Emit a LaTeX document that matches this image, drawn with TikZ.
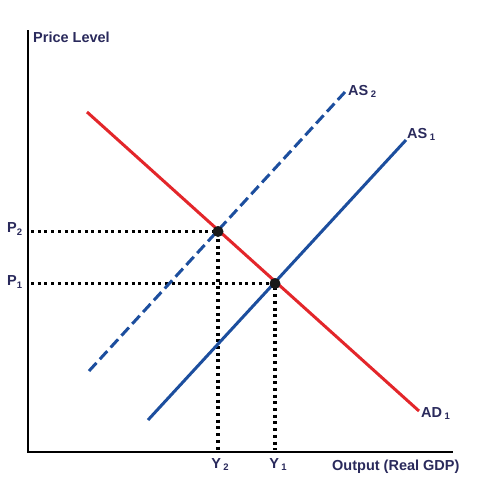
\documentclass[tikz,border=0pt]{standalone}
\usepackage{fontspec}
\setmainfont{Liberation Sans}
\definecolor{adred}{HTML}{E3262A}
\definecolor{asblue}{HTML}{1C4E9E}
\definecolor{txt}{HTML}{2A2A5C}
\begin{document}
\begin{tikzpicture}[x=1pt,y=-1pt,
  lbl/.style={font=\fontsize{14.5}{15}\selectfont\bfseries, text=txt, inner sep=0pt},
  curve/.style={line width=3pt},
  axis/.style={line width=2.8pt, black},
  guide/.style={line width=3.2pt, black, dash pattern=on 3pt off 3.7pt},
  eq/.style={circle, fill=black!90, minimum size=11pt, inner sep=0pt}]
\useasboundingbox[fill=white] (0,0) rectangle (480,480);
% axes
\coordinate (O) at (28,452);
\coordinate (ytop) at (28,30);
\coordinate (xend) at (453,452);
\draw[axis] (ytop) -- (O) -- (xend);
% equilibrium points
\coordinate (E2) at (218,231.5);
\coordinate (E1) at (275,283.5);
% guides
\coordinate (p2) at (31,231.5);
\coordinate (p1) at (31,283.5);
\coordinate (y2) at (218,450);
\coordinate (y1) at (275,450);
\draw[guide] (p2) -- (E2) -- (y2);
\draw[guide] (p1) -- (E1) -- (y1);
% curves
\coordinate (ada) at (87,112);
\coordinate (adb) at (419,411);
\coordinate (as1a) at (148,420);
\coordinate (as1b) at (406,140);
\coordinate (as2a) at (89,371);
\coordinate (as2b) at (345,92);
\draw[curve, adred] (ada) -- (adb);
\draw[curve, asblue] (as1a) -- (as1b);
\draw[curve, asblue, dash pattern=on 11pt off 5pt] (as2a) -- (as2b);
\node[eq] (e2) at (E2) {};
\node[eq] (e1) at (E1) {};
% labels
\node[lbl, anchor=west] (pl) at (33,37) {Price Level};
\node[lbl, anchor=west] (out) at (332,467) {Output (Real GDP)};
\node[lbl, anchor=west] (as2) at (348,91) {AS\,\raisebox{-2pt}{\fontsize{9.5}{9.5}\selectfont 2}};
\node[lbl, anchor=west] (as1) at (407,134) {AS\,\raisebox{-2pt}{\fontsize{9.5}{9.5}\selectfont 1}};
\node[lbl, anchor=west] (ad1) at (421,414) {AD\,\raisebox{-2pt}{\fontsize{9.5}{9.5}\selectfont 1}};
\node[lbl, anchor=west] (P2) at (7,229) {P\raisebox{-3pt}{\fontsize{9.5}{9.5}\selectfont 2}};
\node[lbl, anchor=west] (P1) at (7,282) {P\raisebox{-3pt}{\fontsize{9.5}{9.5}\selectfont 1}};
\node[lbl] (Y2) at (220,465) {Y\,\raisebox{-2pt}{\fontsize{9.5}{9.5}\selectfont 2}};
\node[lbl] (Y1) at (278,465) {Y\,\raisebox{-2pt}{\fontsize{9.5}{9.5}\selectfont 1}};
\end{tikzpicture}
\end{document}
